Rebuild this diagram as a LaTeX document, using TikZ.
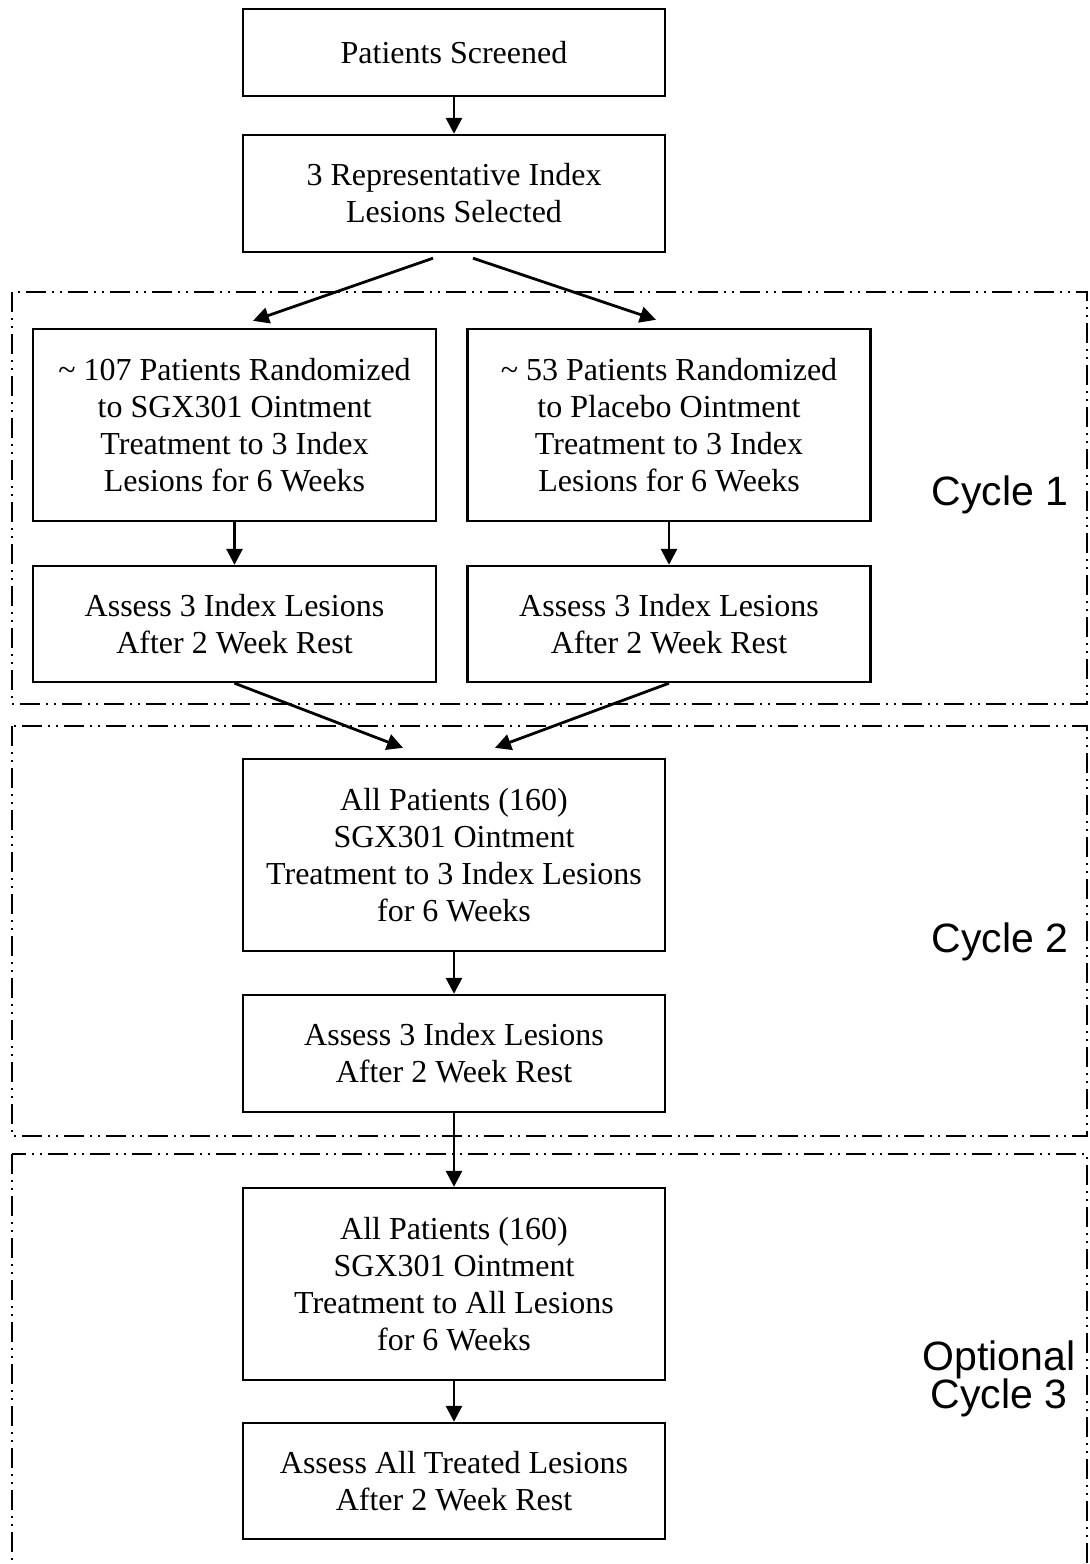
\documentclass[tikz,border=0pt]{standalone}
\usepackage{fontspec}
\setmainfont{Liberation Serif}
\newfontfamily\labelfont{Liberation Sans}
\usetikzlibrary{arrows.meta,calc}
\begin{document}
\begin{tikzpicture}[x=0.5pt,y=-0.5pt,
  box/.style={draw,line width=1.2pt,rectangle,align=center,inner sep=0pt,font=\fontsize{16}{18.5}\selectfont},
  wbox/.style={box,minimum width=211pt},
  sbox/.style={box,minimum width=201.5pt},
  arr/.style={line width=1.4pt,-{Triangle[length=8pt,width=8pt]}},
  cyc/.style={line width=0.8pt,dash pattern=on 10pt off 3pt on 1pt off 3pt on 1pt off 3pt},
  lab/.style={font=\labelfont\fontsize{20.5}{24}\selectfont,inner sep=0pt,anchor=base}]
\useasboundingbox (0,0) rectangle (1090,1564);
\fill[white] (0,0) rectangle (1090,1564);
\begin{scope}
\clip (0,0) rectangle (1090,1564);
\draw[cyc] (12,292) rectangle (1087,704);
\draw[cyc] (12,726) rectangle (1087,1136);
\draw[cyc] (12,1154) rectangle (1087,1640);
\end{scope}

\node[wbox,minimum height=43.5pt] (b1) at (454,52.5) {Patients Screened};
\node[wbox,minimum height=58.5pt] (b2) at (454,193.5) {3 Representative Index\\Lesions Selected};
\node[sbox,minimum height=96pt] (l1) at (234.5,425) {\textasciitilde\ 107 Patients Randomized\\to SGX301 Ointment\\Treatment to 3 Index\\Lesions for 6 Weeks};
\node[sbox,minimum height=96pt] (r1) at (669,425) {\textasciitilde\ 53 Patients Randomized\\to Placebo Ointment\\Treatment to 3 Index\\Lesions for 6 Weeks};
\node[sbox,minimum height=58pt] (l2) at (234.5,624) {Assess 3 Index Lesions\\After 2 Week Rest};
\node[sbox,minimum height=58pt] (r2) at (669,624) {Assess 3 Index Lesions\\After 2 Week Rest};
\node[wbox,minimum height=96pt] (ap) at (454,855) {All Patients (160)\\SGX301 Ointment\\Treatment to 3 Index Lesions\\for 6 Weeks};
\node[wbox,minimum height=58.5pt] (a3) at (454,1053.5) {Assess 3 Index Lesions\\After 2 Week Rest};
\node[wbox,minimum height=96pt] (ap3) at (454,1284) {All Patients (160)\\SGX301 Ointment\\Treatment to All Lesions\\for 6 Weeks};
\node[wbox,minimum height=58pt] (aa) at (454,1481) {Assess All Treated Lesions\\After 2 Week Rest};

\node[lab] (c1) at (1000,505) {Cycle 1};
\node[lab] (c2) at (1000,952) {Cycle 2};
\node[lab] (c3a) at (999,1370) {Optional};
\node[lab] (c3b) at (999,1408) {Cycle 3};

\draw[arr] (b1.south) -- (b2.north);
\draw[arr] ($(b2.south)+(-21,5)$) -- ($(l1.north)+(18.5,-7)$);
\draw[arr] ($(b2.south)+(19,5)$) -- ($(r1.north)+(-13,-8)$);
\draw[arr] (l1.south) -- (l2.north);
\draw[arr] (r1.south) -- (r2.north);
\draw[arr] (l2.south) -- ($(ap.north)+(-51,-10)$);
\draw[arr] (r2.south) -- ($(ap.north)+(41,-10)$);
\draw[arr] (ap.south) -- (a3.north);
\draw[arr] (a3.south) -- (ap3.north);
\draw[arr] (ap3.south) -- (aa.north);
\end{tikzpicture}
\end{document}
